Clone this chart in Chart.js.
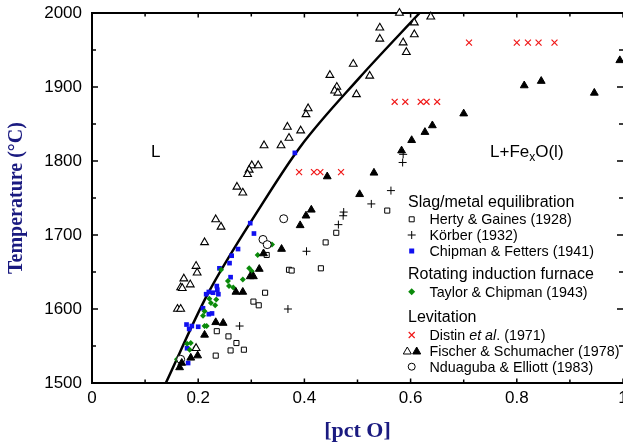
<!DOCTYPE html>
<html>
<head>
<meta charset="utf-8">
<script src="https://cdn.jsdelivr.net/npm/chart.js@4.4.1/dist/chart.umd.min.js"></script>
<style>
  html, body { margin: 0; padding: 0; background: #fff; }
  #wrap { width: 623px; height: 447px; }
</style>
</head>
<body>
<div id="wrap"><canvas id="oxygenChart"></canvas></div>
<script>
const xTicks = [0, 0.2, 0.4, 0.6, 0.8, 1];
const yTicks = [1500, 1600, 1700, 1800, 1900, 2000];

// [pct O, temperature]
const hertyGaines = [[0.556,1733],[0.460,1703],[0.440,1690],[0.431,1655],[0.371,1653],[0.376,1652],
  [0.329,1673],[0.326,1622],[0.304,1610],[0.314,1605],[0.235,1570],[0.257,1563],[0.272,1554],
  [0.261,1544],[0.286,1545],[0.233,1537]];
const korber = [[0.586,1809],[0.585,1798],[0.563,1760],[0.526,1742],[0.474,1731],[0.473,1726],
  [0.464,1714],[0.404,1678],[0.369,1600],[0.278,1577]];
const chipmanFetters = [[0.382,1811],[0.298,1716],[0.305,1702],[0.275,1681],[0.263,1672],[0.259,1662],
  [0.240,1655],[0.261,1643],[0.235,1631],[0.236,1626],[0.238,1620],[0.228,1622],[0.220,1623],
  [0.215,1620],[0.209,1601],[0.226,1594],[0.220,1593],[0.178,1579],[0.188,1577],[0.183,1573],
  [0.200,1576],[0.179,1547],[0.181,1527]];
const taylorChipman = [[0.339,1687],[0.312,1673],[0.296,1655],[0.301,1651],[0.284,1640],[0.243,1653],
  [0.256,1638],[0.258,1631],[0.266,1629],[0.221,1614],[0.234,1613],[0.224,1608],[0.232,1605],
  [0.212,1597],[0.209,1591],[0.212,1577],[0.216,1577],[0.179,1553],[0.186,1554],[0.184,1545],
  [0.195,1548],[0.160,1532]];
const distin = [[0.710,1960],[0.800,1960],[0.821,1960],[0.841,1960],[0.871,1960],
  [0.570,1880],[0.590,1880],[0.619,1880],[0.630,1880],[0.650,1880],
  [0.390,1785],[0.418,1785],[0.430,1785],[0.469,1785]];
const fischerOpen = [[0.579,2000],[0.542,1980],[0.542,1965],[0.607,1987],[0.638,1995],[0.607,1971],
  [0.586,1960],[0.592,1947],[0.492,1931],[0.448,1916],[0.523,1915],[0.461,1900],[0.457,1895],
  [0.463,1892],[0.498,1890],[0.407,1871],[0.403,1863],[0.393,1841],[0.368,1846],[0.371,1831],
  [0.324,1821],[0.356,1821],[0.301,1794],[0.313,1794],[0.296,1788],[0.293,1782],[0.273,1765],
  [0.284,1757],[0.233,1721],[0.243,1711],[0.212,1690],[0.196,1658],[0.198,1649],[0.173,1641],
  [0.185,1633],[0.167,1629],[0.170,1628],[0.161,1600],[0.167,1600],[0.196,1547]];
const fischerFilled = [[0.994,1936],[0.814,1902],[0.846,1908],[0.946,1892],[0.700,1864],[0.641,1848],
  [0.627,1839],[0.602,1828],[0.583,1814],[0.531,1784],[0.443,1779],[0.504,1755],[0.413,1734],
  [0.403,1726],[0.392,1713],[0.357,1681],[0.323,1675],[0.315,1654],[0.304,1644],[0.298,1644],
  [0.271,1623],[0.284,1623],[0.233,1582],[0.247,1581],[0.212,1565],[0.199,1537],[0.186,1534],
  [0.169,1527],[0.165,1521]];
const nduagubaElliott = [[0.361,1722],[0.322,1694],[0.330,1687],[0.167,1532]];

const liquidusX = [0.139, 0.217, 0.317, 0.392, 0.503, 0.617];
const liquidusY = [1500, 1619, 1738, 1819, 1912, 2000];

const BLUE = '#1010f0', GREEN = '#0a8a0a', RED = '#f01818', NAVY = '#1a1a80';

const toXY = pts => pts.map(([x, y]) => ({x, y}));

function mark(ctx, kind, x, y) {
    ctx.save();
    ctx.lineWidth = 1;
    ctx.strokeStyle = '#000';
    ctx.beginPath();
    if (kind === 'square') {
        ctx.fillStyle = '#fff';
        ctx.rect(x - 2.5, y - 2.5, 5, 5); ctx.fill(); ctx.stroke();
    } else if (kind === 'plus') {
        ctx.moveTo(x - 4, y); ctx.lineTo(x + 4, y);
        ctx.moveTo(x, y - 4); ctx.lineTo(x, y + 4); ctx.stroke();
    } else if (kind === 'blue') {
        ctx.fillStyle = BLUE; ctx.fillRect(x - 2.5, y - 2.5, 5, 5);
    } else if (kind === 'diamond') {
        ctx.fillStyle = GREEN;
        ctx.moveTo(x, y - 3.5); ctx.lineTo(x + 3.5, y); ctx.lineTo(x, y + 3.5); ctx.lineTo(x - 3.5, y);
        ctx.closePath(); ctx.fill();
    } else if (kind === 'cross') {
        ctx.strokeStyle = RED; ctx.lineWidth = 1.2;
        ctx.moveTo(x - 3, y - 3); ctx.lineTo(x + 3, y + 3);
        ctx.moveTo(x + 3, y - 3); ctx.lineTo(x - 3, y + 3); ctx.stroke();
    } else if (kind === 'tri' || kind === 'triFill') {
        ctx.fillStyle = kind === 'tri' ? '#fff' : '#000';
        ctx.moveTo(x, y - 4); ctx.lineTo(x + 4, y + 3); ctx.lineTo(x - 4, y + 3); ctx.closePath();
        ctx.fill(); ctx.stroke();
    } else if (kind === 'circle') {
        ctx.arc(x, y, 3.5, 0, Math.PI * 2); ctx.stroke();
    }
    ctx.restore();
}

const frameTicks = {
    id: 'frameTicks',
    beforeDatasetsDraw(chart) {
        const {ctx, chartArea: a, scales: {x, y}} = chart;
        ctx.save();
        ctx.strokeStyle = '#000';
        ctx.lineWidth = 2;
        ctx.beginPath();
        ctx.moveTo(a.left - 1, a.top);
        ctx.lineTo(a.right, a.top);
        ctx.stroke();
        ctx.lineWidth = 1.5;
        ctx.beginPath();
        for (let i = 0; i <= 10; i++) {
            const px = x.getPixelForValue(i / 10);
            const len = i % 2 ? 3.5 : 4.5;
            ctx.moveTo(px, a.bottom); ctx.lineTo(px, a.bottom - len);
            ctx.moveTo(px, a.top); ctx.lineTo(px, a.top + len);
        }
        for (let v = 1500; v <= 2000; v += 50) {
            const py = y.getPixelForValue(v);
            const len = v % 100 ? 4 : 6;
            ctx.moveTo(a.left, py); ctx.lineTo(a.left + len, py);
            ctx.moveTo(a.right, py); ctx.lineTo(a.right - len, py);
        }
        ctx.stroke();
        ctx.restore();
    }
};

const legendRows = [
    {head: 'Slag/metal equilibration', y: 206.5},
    {mark: ['square'], text: 'Herty & Gaines (1928)', y: 224, my: 219.3},
    {mark: ['plus'], text: 'Körber (1932)', y: 240, my: 235},
    {mark: ['blue'], text: 'Chipman & Fetters (1941)', y: 256, my: 251},
    {head: 'Rotating induction furnace', y: 279},
    {mark: ['diamond'], text: 'Taylor & Chipman (1943)', y: 296.7, my: 291.7},
    {head: 'Levitation', y: 321.7},
    {mark: ['cross'], text: ['Distin ', 'et al', '. (1971)'], y: 339.5, my: 335},
    {mark: ['tri', 'triFill'], text: 'Fischer & Schumacher (1978)', y: 356, my: 351},
    {mark: ['circle'], text: 'Nduaguba & Elliott (1983)', y: 371.5, my: 366.7}
];

const notes = {
    id: 'notes',
    afterDraw(chart) {
        const ctx = chart.ctx;
        ctx.save();
        ctx.fillStyle = '#000';
        ctx.textBaseline = 'alphabetic';
        ctx.font = '17px "Liberation Sans", Arial, sans-serif';
        ctx.fillText('L', 151, 157);
        ctx.fillText('L+Fe', 490, 157);
        let w = ctx.measureText('L+Fe').width;
        ctx.font = '12px "Liberation Sans", Arial, sans-serif';
        ctx.fillText('x', 490 + w, 161);
        w += ctx.measureText('x').width;
        ctx.font = '17px "Liberation Sans", Arial, sans-serif';
        ctx.fillText('O(l)', 490 + w, 157);

        legendRows.forEach(r => {
            if (r.head) {
                ctx.font = '16px "Liberation Sans", Arial, sans-serif';
                ctx.fillText(r.head, 408, r.y);
                return;
            }
            if (r.mark.length === 2) {
                mark(ctx, r.mark[0], 407.3, r.my);
                mark(ctx, r.mark[1], 416.7, r.my);
            } else {
                mark(ctx, r.mark[0], 411.7, r.my);
            }
            const parts = Array.isArray(r.text) ? r.text : [r.text];
            let tx = 429.5;
            parts.forEach((p, i) => {
                ctx.font = (parts.length === 3 && i === 1 ? 'italic ' : '') + '14.3px "Liberation Sans", Arial, sans-serif';
                ctx.fillText(p, tx, r.y);
                tx += ctx.measureText(p).width;
            });
        });
        ctx.restore();
    }
};

const pointSet = (label, data, style, extra) => Object.assign({
    label, data: toXY(data), pointStyle: style, showLine: false, clip: false,
    pointBorderWidth: 1, pointBorderColor: '#000', pointBackgroundColor: '#fff'
}, extra);

new Chart(document.getElementById('oxygenChart'), {
    type: 'scatter',
    data: {
        datasets: [
            pointSet('Fischer & Schumacher (1978) filled', fischerFilled, 'triangle', {pointRadius: 4.5, pointBackgroundColor: '#000'}),
            pointSet('Fischer & Schumacher (1978) open', fischerOpen, 'triangle', {pointRadius: 4.5, pointBorderWidth: 1.1}),
            pointSet('Distin et al. (1971)', distin, 'crossRot', {pointRadius: 4.2, pointBorderColor: RED, pointBorderWidth: 1.2}),
            pointSet('Nduaguba & Elliott (1983)', nduagubaElliott, 'circle', {pointRadius: 4}),
            pointSet('Taylor & Chipman (1943)', taylorChipman, 'rectRot', {pointRadius: 3, pointBorderWidth: 0, pointBackgroundColor: GREEN, pointBorderColor: GREEN}),
            pointSet('Chipman & Fetters (1941)', chipmanFetters, 'rect', {pointRadius: 3.3, pointBorderWidth: 0, pointBackgroundColor: BLUE, pointBorderColor: BLUE}),
            pointSet('Körber (1932)', korber, 'cross', {pointRadius: 4}),
            pointSet('Herty & Gaines (1928)', hertyGaines, 'rect', {pointRadius: 3.6}),
            {
                label: 'liquidus',
                data: liquidusX.map((x, i) => ({x, y: liquidusY[i]})),
                showLine: true,
                pointRadius: 0,
                borderColor: '#000',
                borderWidth: 2.5,
                cubicInterpolationMode: 'monotone'
            }
        ]
    },
    options: {
        responsive: true,
        maintainAspectRatio: false,
        animation: false,
        layout: { autoPadding: false, padding: { top: 13, left: 0, right: 0, bottom: 0 } },
        plugins: { legend: { display: false }, tooltip: { enabled: false } },
        scales: {
            x: {
                type: 'linear',
                min: 0,
                max: 1,
                afterBuildTicks: s => { s.ticks = xTicks.map(v => ({value: v})); },
                afterFit: s => { s.height = 64; s.paddingLeft = 0; s.paddingRight = 0; },
                ticks: {
                    color: '#000',
                    padding: 5,
                    maxRotation: 0,
                    autoSkip: false,
                    font: { family: '"Liberation Sans", Arial, sans-serif', size: 17 },
                    callback: v => String(v)
                },
                grid: { display: false, drawTicks: false },
                border: { display: true, color: '#000', width: 2 },
                title: {
                    display: true,
                    text: '[pct O]',
                    color: NAVY,
                    padding: { top: 0, bottom: 2 },
                    font: { family: '"Liberation Serif", "Times New Roman", serif', size: 22, weight: 'bold' }
                }
            },
            y: {
                type: 'linear',
                min: 1500,
                max: 2000,
                afterBuildTicks: s => { s.ticks = yTicks.map(v => ({value: v})); },
                afterFit: s => { s.width = 92; s.paddingTop = 0; s.paddingBottom = 0; },
                ticks: {
                    color: '#000',
                    padding: 10,
                    autoSkip: false,
                    font: { family: '"Liberation Sans", Arial, sans-serif', size: 17 },
                    callback: v => String(v)
                },
                grid: { display: false, drawTicks: false },
                border: { display: true, color: '#000', width: 2 },
                title: {
                    display: true,
                    text: 'Temperature (°C)',
                    color: NAVY,
                    padding: { top: 5, bottom: 0 },
                    font: { family: '"Liberation Serif", "Times New Roman", serif', size: 20, weight: 'bold' }
                }
            }
        }
    },
    plugins: [frameTicks, notes]
});
</script>
</body>
</html>
